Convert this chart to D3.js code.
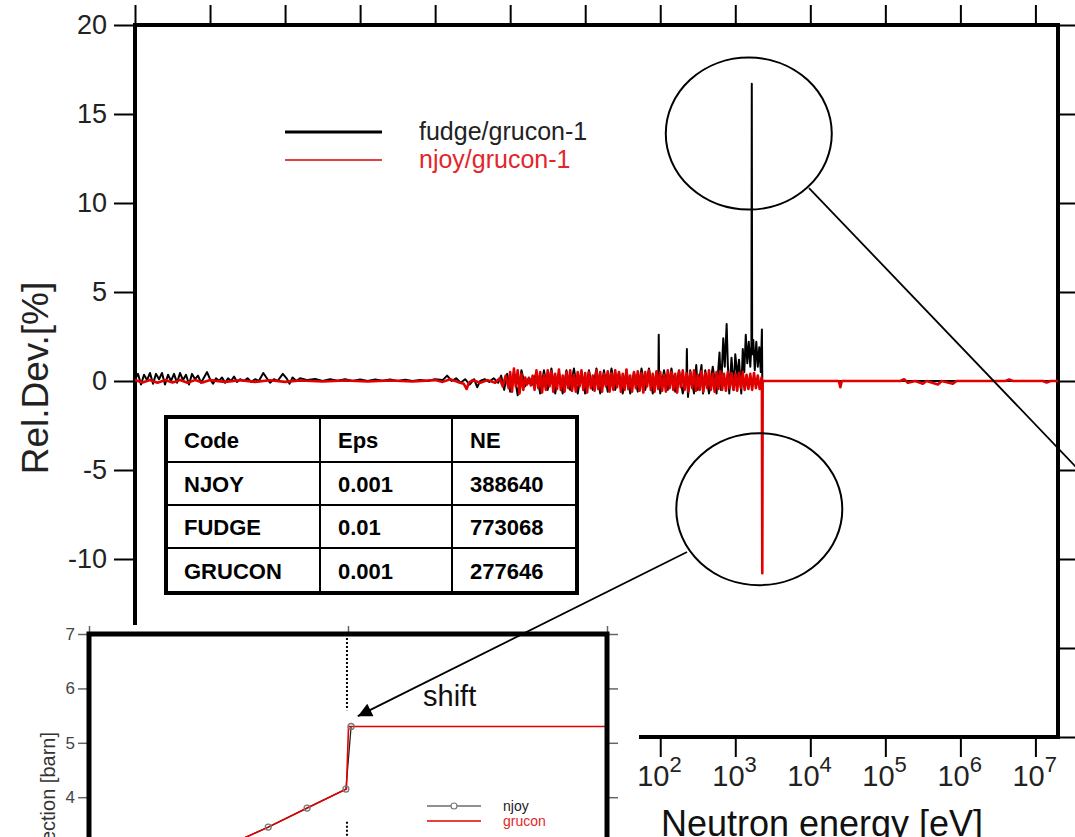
<!DOCTYPE html>
<html>
<head>
<meta charset="utf-8">
<script src="https://cdn.jsdelivr.net/npm/d3@7"></script>
<style>
  body { margin: 0; background: #fff; }
  svg { display: block; font-family: "Liberation Sans", Arial, sans-serif; }
</style>
</head>
<body>
<div id="chart"></div>
<script>
// main panel data: [log10(E/eV), relative deviation in %]
const fudgeDev = [
  [-5.00,0.1],[-4.96,0.4],[-4.92,-0.2],[-4.88,0.35],[-4.84,0.05],[-4.80,0.45],[-4.76,-0.15],[-4.72,0.4],
  [-4.68,0.1],[-4.64,0.45],[-4.60,-0.2],[-4.56,0.35],[-4.52,0.0],[-4.48,0.4],[-4.44,-0.1],[-4.40,0.45],
  [-4.36,0.05],[-4.32,0.35],[-4.28,-0.2],[-4.24,0.4],[-4.20,0.1],[-4.16,0.3],[-4.12,-0.1],[-4.08,0.2],
  [-4.04,0.5],[-4.00,0.1],[-3.96,-0.15],[-3.92,0.15],[-3.88,0.0],[-3.84,0.2],[-3.80,-0.1],[-3.76,0.15],
  [-3.72,0.0],[-3.68,0.25],[-3.64,-0.05],[-3.60,0.1],[-3.55,0.0],[-3.50,0.15],[-3.45,-0.05],[-3.40,0.1],
  [-3.35,0.0],[-3.29,0.45],[-3.25,0.2],[-3.20,-0.1],[-3.15,0.1],[-3.10,0.0],[-3.03,0.4],[-2.98,0.15],
  [-2.94,-0.15],[-2.90,0.2],[-2.85,0.0],[-2.80,0.15],[-2.70,0.05],[-2.60,0.12],[-2.50,0.0],[-2.40,0.1],
  [-2.30,0.02],[-2.20,0.1],[-2.10,0.0],[-2.00,0.08],[-1.90,0.0],[-1.80,0.08],[-1.70,0.02],[-1.60,0.08],
  [-1.50,0.0],[-1.40,0.07],[-1.30,0.0],[-1.20,0.06],[-1.10,0.0],[-1.00,0.1],[-0.90,0.05],[-0.84,0.3],
  [-0.78,0.0],[-0.72,0.15],[-0.66,-0.1],[-0.60,0.1],[-0.54,-0.2],[-0.48,0.1],[-0.44,-0.35],[-0.40,0.0],
  [-0.34,0.1],[-0.28,-0.05],[-0.22,0.15],[-0.16,-0.1],[-0.12,0.3],[-0.08,-0.5],[-0.04,0.4],
  [0.00,-0.6],[0.05,0.5],[0.10,-0.8],[0.15,0.6],[0.20,-0.3],[0.25,0.2],[0.30,-0.2],[0.35,0.5],
  [0.40,-0.7],[0.45,0.6],[0.50,-0.5],[0.55,0.7],[0.60,-0.7],[0.65,0.5],[0.70,-0.7],[0.75,0.6],
  [0.80,-0.5],[0.85,0.7],[0.90,-0.7],[0.95,0.5],[1.00,-0.7],[1.05,0.6],[1.10,-0.5],[1.15,0.7],
  [1.20,-0.7],[1.25,0.6],[1.30,-0.6],[1.35,0.7],[1.40,-0.5],[1.45,0.5],[1.50,-0.7],[1.55,0.6],
  [1.60,-0.7],[1.65,0.5],[1.70,-0.6],[1.75,0.7],[1.80,-0.5],[1.85,0.7],[1.90,-0.7],[1.95,0.5],
  [1.975,0.3],[1.98,2.6],[1.985,0.2],[2.00,-0.7],[2.05,0.6],[2.10,-0.5],[2.15,0.7],[2.20,-0.6],
  [2.25,0.6],[2.30,-0.7],[2.35,0.4],[2.355,1.8],[2.36,0.3],[2.37,-0.9],[2.40,0.6],[2.45,-0.7],
  [2.48,0.9],[2.50,-0.5],[2.55,0.9],[2.57,-0.7],[2.60,0.6],[2.65,-0.7],[2.70,0.8],[2.75,-0.7],
  [2.79,1.6],[2.81,-0.5],[2.84,2.4],[2.86,0.8],[2.885,3.2],[2.90,1.0],[2.92,-0.7],[2.95,1.3],
  [2.98,-0.5],[3.00,1.5],[3.03,0.2],[3.05,1.2],[3.08,-0.7],[3.10,1.8],[3.12,0.5],[3.14,2.6],
  [3.16,1.0],[3.18,2.2],[3.20,0.8],[3.215,2.0],[3.22,16.7],[3.225,1.5],[3.24,2.3],[3.26,0.6],
  [3.28,2.2],[3.30,0.8],[3.32,1.9],[3.34,0.5],[3.355,2.9],[3.36,0.0],[7.30,0.0]
];

const njoyDev = [
  [-5.0,0.05],[-4.9,-0.08],[-4.8,0.06],[-4.7,-0.1],[-4.6,0.05],[-4.5,-0.08],[-4.4,0.06],[-4.3,-0.1],
  [-4.2,0.05],[-4.1,-0.08],[-4.0,0.05],[-3.8,-0.05],[-3.6,0.04],[-3.4,-0.05],[-3.2,0.04],[-3.0,-0.05],
  [-2.8,0.03],[-2.5,-0.03],[-2.2,0.03],[-1.9,-0.03],[-1.6,0.03],[-1.3,-0.03],[-1.0,0.05],[-0.9,-0.05],
  [-0.8,0.1],[-0.7,-0.05],[-0.62,-0.15],[-0.58,-0.45],[-0.55,-0.1],[-0.5,0.05],[-0.4,-0.1],[-0.3,0.05],
  [-0.2,-0.1],[-0.14,0.15],[-0.1,-0.3],[-0.06,0.3],[-0.02,-0.4],
  [0.000,0.5],[0.025,-0.6],[0.050,0.7],[0.075,-0.3],[0.100,0.6],[0.125,-0.7],[0.150,0.4],[0.175,-0.5],
  [0.200,0.2],[0.225,-0.2],[0.250,0.15],[0.275,-0.25],[0.300,0.3],[0.325,-0.5],[0.350,0.6],[0.375,-0.4],
  [0.400,0.5],[0.425,-0.65],[0.450,0.35],[0.475,-0.5],[0.500,0.6],[0.525,-0.3],[0.550,0.55],[0.575,-0.6],
  [0.600,0.4],[0.625,-0.45],[0.650,0.65],[0.675,-0.5],[0.700,0.3],[0.725,-0.6],[0.750,0.5],[0.775,-0.4],
  [0.800,0.6],[0.825,-0.55],[0.850,0.35],[0.875,-0.6],[0.900,0.5],[0.925,-0.3],[0.950,0.6],[0.975,-0.5],
  [1.000,0.45],[1.025,-0.65],[1.050,0.5],[1.075,-0.4],[1.100,0.3],[1.125,-0.55],[1.150,0.6],[1.175,-0.45],
  [1.200,0.5],[1.225,-0.6],[1.250,0.4],[1.275,-0.3],[1.300,0.55],[1.325,-0.6],[1.350,0.45],[1.375,-0.5],
  [1.400,0.6],[1.425,-0.35],[1.450,0.5],[1.475,-0.6],[1.500,0.4],[1.525,-0.5],[1.550,0.65],[1.575,-0.45],
  [1.600,0.3],[1.625,-0.6],[1.650,0.5],[1.675,-0.4],[1.700,0.55],[1.725,-0.55],[1.750,0.45],[1.775,-0.65],
  [1.800,0.5],[1.825,-0.3],[1.850,0.6],[1.875,-0.5],[1.900,0.4],[1.925,-0.6],[1.950,0.55],[1.975,-0.45],
  [2.000,0.5],[2.025,-0.55],[2.050,0.35],[2.075,-0.6],[2.100,0.6],[2.125,-0.4],[2.150,0.5],[2.175,-0.5],
  [2.200,0.4],[2.225,-0.65],[2.250,0.55],[2.275,-0.35],[2.300,0.6],[2.325,-0.5],[2.350,0.45],[2.375,-0.6],
  [2.400,0.5],[2.425,-0.4],[2.450,0.6],[2.475,-0.55],[2.500,0.35],[2.525,-0.5],[2.550,0.55],[2.575,-0.6],
  [2.600,0.45],[2.625,-0.4],[2.650,0.6],[2.675,-0.5],[2.700,0.4],[2.725,-0.6],[2.750,0.5],[2.775,-0.45],
  [2.800,0.55],[2.825,-0.5],[2.850,0.4],[2.875,-0.55],[2.900,0.5],[2.925,-0.4],[2.950,0.45],[2.975,-0.5],
  [3.000,0.4],[3.025,-0.55],[3.050,0.45],[3.075,-0.4],[3.100,0.5],[3.125,-0.5],[3.150,0.35],[3.175,-0.45],
  [3.200,0.4],[3.225,-0.5],[3.250,0.45],[3.275,-0.4],[3.300,0.3],[3.325,-0.45],[3.350,0.2],[3.355,-0.3],
  [3.36,-10.8],[3.365,0.0],
  [4.38,0.0],[4.40,-0.35],[4.42,0.0],[5.2,0.0],[5.25,0.1],[5.3,-0.1],[5.4,0.0],[5.5,-0.15],
  [5.55,0.0],[5.7,-0.2],[5.75,0.0],[5.9,-0.15],[5.95,0.0],[6.6,0.0],[6.65,0.08],[6.7,0.0],
  [7.1,0.0],[7.15,-0.08],[7.2,0.0],[7.301,0.0]
];

const yTicks = [-20, -15, -10, -5, 0, 5, 10, 15, 20];
const decades = [1e-5,1e-4,1e-3,1e-2,1e-1,1e0,1e1,1e2,1e3,1e4,1e5,1e6,1e7];
const legendNames = ["fudge/grucon-1", "njoy/grucon-1"];

const tableHeader = ["Code", "Eps", "NE"];
const tableRows = [
  ["NJOY", "0.001", "388640"],
  ["FUDGE", "0.01", "773068"],
  ["GRUCON", "0.001", "277646"]
];

// inset (zoom around the step), x in arbitrary units, y in barn
const insetNjoy = [[0.269,3.12],[0.346,3.45],[0.421,3.8],[0.496,4.15],[0.506,5.3]];
const insetGrucon = [[0.2,2.85],[0.269,3.12],[0.346,3.45],[0.421,3.8],[0.497,4.15],[0.501,5.3],[1.0,5.3]];
const insetYTicks = [3, 4, 5, 6, 7];
const insetXTicks = [0, 0.5, 1];

const W = 1075, H = 837;
const red = "#e00000";
const svg = d3.select("#chart").append("svg").attr("width", W).attr("height", H);
const defs = svg.append("defs");

// ---------- main panel ----------
const P = {l: 135, t: 25, r: 1058, b: 737};
const x = d3.scaleLog().domain([1e-5, 2e7]).range([P.l, P.r]);
const y = d3.scaleLinear().domain([-20, 20]).range([P.b, P.t]);
const ex = e => x(Math.pow(10, e));

// the inset picture covers the lower left corner of the main panel
const inset = {x0: 0, y0: 625, x1: 639};

defs.append("clipPath").attr("id", "mainclip")
  .append("rect").attr("x", P.l).attr("y", P.t).attr("width", P.r - P.l).attr("height", P.b - P.t);

function styleAxis(g) {
  g.select(".domain").remove();
  g.selectAll(".tick line").attr("stroke", "#000").attr("stroke-width", 2);
  g.attr("font-family", null);
}

const gL = svg.append("g").attr("transform", `translate(${P.l},0)`)
  .call(d3.axisLeft(y).tickValues(yTicks).tickSize(21).tickPadding(7)
    .tickFormat(d => y(d) < inset.y0 ? String(d) : ""));
styleAxis(gL);
gL.attr("font-size", 27).selectAll("text").attr("fill", "#222");

const gR = svg.append("g").attr("transform", `translate(${P.r},0)`)
  .call(d3.axisRight(y).tickValues(yTicks).tickSize(20).tickFormat(""));
styleAxis(gR);

const gT = svg.append("g").attr("transform", `translate(0,${P.t})`)
  .call(d3.axisTop(x).tickValues(decades).tickSize(20).tickFormat(""));
styleAxis(gT);

const gB = svg.append("g").attr("transform", `translate(0,${P.b})`)
  .call(d3.axisBottom(x).tickValues(decades).tickSize(20).tickFormat(""));
styleAxis(gB);

// decade labels 10^n (only the ones not hidden by the inset)
decades.filter(d => x(d) > inset.x1).forEach(d => {
  const t = svg.append("text").attr("x", x(d) - 23).attr("y", 786).attr("fill", "#222");
  t.append("tspan").attr("font-size", 29).text("10");
  t.append("tspan").attr("font-size", 22).attr("dy", -14).text(String(Math.round(Math.log10(d))));
});

svg.append("rect").attr("x", P.l).attr("y", P.t)
  .attr("width", P.r - P.l).attr("height", P.b - P.t)
  .attr("fill", "none").attr("stroke", "#000").attr("stroke-width", 4);

svg.append("text").attr("transform", "translate(48,378) rotate(-90)")
  .attr("text-anchor", "middle").attr("font-size", 37).attr("fill", "#222")
  .text("Rel.Dev.[%]");

svg.append("text").attr("x", 822).attr("y", 836)
  .attr("text-anchor", "middle").attr("font-size", 36).attr("fill", "#111")
  .text("Neutron energy [eV]");

const line = d3.line().x(d => ex(d[0])).y(d => y(d[1]));
const dataG = svg.append("g").attr("clip-path", "url(#mainclip)");
dataG.append("path").datum(fudgeDev).attr("d", line)
  .attr("fill", "none").attr("stroke", "#000").attr("stroke-width", 2).attr("stroke-linejoin", "round");
dataG.append("path").datum(njoyDev).attr("d", line)
  .attr("fill", "none").attr("stroke", red).attr("stroke-width", 2.6).attr("stroke-linejoin", "round");

// legend
svg.append("line").attr("x1", 285).attr("x2", 382).attr("y1", 132).attr("y2", 132)
  .attr("stroke", "#000").attr("stroke-width", 3);
svg.append("line").attr("x1", 285).attr("x2", 382).attr("y1", 160).attr("y2", 160)
  .attr("stroke", red).attr("stroke-width", 1.5);
svg.append("text").attr("x", 419).attr("y", 140).attr("font-size", 25).attr("fill", "#222").text(legendNames[0]);
svg.append("text").attr("x", 419).attr("y", 168).attr("font-size", 25).attr("fill", "#e3262b").text(legendNames[1]);

// table
const tb = {x: 166, y: 417, w: 411, rows: [45, 43, 43, 45], cols: [154, 132, 125]};
const tg = svg.append("g");
tg.append("rect").attr("x", tb.x).attr("y", tb.y).attr("width", tb.w)
  .attr("height", d3.sum(tb.rows)).attr("fill", "#fff").attr("stroke", "#000").attr("stroke-width", 4);
let cx = tb.x;
tb.cols.slice(0, -1).forEach(c => {
  cx += c;
  tg.append("line").attr("x1", cx).attr("x2", cx).attr("y1", tb.y).attr("y2", tb.y + d3.sum(tb.rows))
    .attr("stroke", "#000").attr("stroke-width", 2);
});
let ry = tb.y;
tb.rows.slice(0, -1).forEach(r => {
  ry += r;
  tg.append("line").attr("x1", tb.x).attr("x2", tb.x + tb.w).attr("y1", ry).attr("y2", ry)
    .attr("stroke", "#000").attr("stroke-width", 2);
});
[tableHeader, ...tableRows].forEach((row, i) => {
  const top = tb.y + d3.sum(tb.rows.slice(0, i));
  let left = tb.x;
  row.forEach((cell, j) => {
    tg.append("text").attr("x", left + 18).attr("y", top + tb.rows[i] / 2 + 8)
      .attr("font-size", 22).attr("font-weight", "bold").attr("fill", "#000").text(cell);
    left += tb.cols[j];
  });
});

// ---------- inset ----------
const I = {l: 89, t: 634, r: 607, b: 906};
const ix = d3.scaleLinear().domain([0, 1]).range([I.l, I.r]);
const iy = d3.scaleLinear().domain([2, 7]).range([I.b, I.t]);

svg.append("rect").attr("x", inset.x0).attr("y", inset.y0)
  .attr("width", inset.x1 - inset.x0).attr("height", H - inset.y0).attr("fill", "#fff");
defs.append("clipPath").attr("id", "insetclip")
  .append("rect").attr("x", I.l).attr("y", I.t).attr("width", I.r - I.l).attr("height", I.b - I.t);

function styleInset(g) {
  g.select(".domain").remove();
  g.selectAll(".tick line").attr("stroke", "#666").attr("stroke-width", 1.5);
  g.attr("font-family", null);
}
const iL = svg.append("g").attr("transform", `translate(${I.l},0)`)
  .call(d3.axisLeft(iy).tickValues(insetYTicks).tickSize(11).tickPadding(3).tickFormat(d => String(d)));
styleInset(iL);
iL.attr("font-size", 17).selectAll("text").attr("fill", "#444");
const iR = svg.append("g").attr("transform", `translate(${I.r},0)`)
  .call(d3.axisRight(iy).tickValues(insetYTicks).tickSize(11).tickFormat(""));
styleInset(iR);
const iT = svg.append("g").attr("transform", `translate(0,${I.t})`)
  .call(d3.axisTop(ix).tickValues(insetXTicks).tickSize(8).tickFormat(""));
styleInset(iT);

svg.append("text").attr("transform", "translate(55,732) rotate(-90)")
  .attr("text-anchor", "end").attr("font-size", 20).attr("fill", "#333")
  .text("Cross section [barn]");

const ig = svg.append("g").attr("clip-path", "url(#insetclip)");
const iline = d3.line().x(d => ix(d[0])).y(d => iy(d[1]));
// dotted marker of the threshold
[[7, 5.6], [3.55, 2]].forEach(s => {
  ig.append("line").attr("x1", ix(0.498)).attr("x2", ix(0.498)).attr("y1", iy(s[0])).attr("y2", iy(s[1]))
    .attr("stroke", "#000").attr("stroke-width", 2).attr("stroke-dasharray", "2,2");
});
ig.append("path").datum(insetNjoy).attr("d", iline)
  .attr("fill", "none").attr("stroke", "#222").attr("stroke-width", 1.3);
ig.append("path").datum(insetGrucon).attr("d", iline)
  .attr("fill", "none").attr("stroke", red).attr("stroke-width", 1.6);
ig.selectAll("circle").data(insetNjoy).enter().append("circle")
  .attr("cx", d => ix(d[0])).attr("cy", d => iy(d[1])).attr("r", 3)
  .attr("fill", "none").attr("stroke", "#777").attr("stroke-width", 1.3);

svg.append("rect").attr("x", I.l).attr("y", I.t).attr("width", I.r - I.l).attr("height", I.b - I.t)
  .attr("fill", "none").attr("stroke", "#000").attr("stroke-width", 5);

// inset legend
svg.append("line").attr("x1", 427).attr("x2", 481).attr("y1", 806).attr("y2", 806)
  .attr("stroke", "#222").attr("stroke-width", 1.2);
svg.append("circle").attr("cx", 454).attr("cy", 806).attr("r", 3)
  .attr("fill", "#fff").attr("stroke", "#777").attr("stroke-width", 1.2);
svg.append("line").attr("x1", 427).attr("x2", 481).attr("y1", 821).attr("y2", 821)
  .attr("stroke", red).attr("stroke-width", 1.4);
svg.append("text").attr("x", 503).attr("y", 811).attr("font-size", 14).attr("fill", "#222").text("njoy");
svg.append("text").attr("x", 503).attr("y", 826).attr("font-size", 14).attr("fill", "#e3262b").text("grucon");

svg.append("text").attr("x", 423).attr("y", 706).attr("font-size", 29).attr("fill", "#111").text("shift");

// ---------- annotations ----------
const marks = [{e: 3.18, v: 13.9}, {e: 3.32, v: -7.2}];
marks.forEach(m => {
  svg.append("ellipse").attr("cx", ex(m.e)).attr("cy", y(m.v)).attr("rx", 83).attr("ry", 76)
    .attr("fill", "none").attr("stroke", "#000").attr("stroke-width", 2);
});

svg.append("line")
  .attr("x1", ex(3.983)).attr("y1", y(10.84))
  .attr("x2", ex(7.861)).attr("y2", y(-6.24))
  .attr("stroke", "#000").attr("stroke-width", 1.8);

defs.append("marker").attr("id", "arrow").attr("viewBox", "0 0 10 10")
  .attr("refX", 10).attr("refY", 5).attr("markerWidth", 17).attr("markerHeight", 14)
  .attr("markerUnits", "userSpaceOnUse").attr("orient", "auto")
  .append("path").attr("d", "M0,0L10,5L0,10z").attr("fill", "#000");

svg.append("line")
  .attr("x1", ex(2.357)).attr("y1", y(-9.61))
  .attr("x2", ix(0.519)).attr("y2", iy(5.49))
  .attr("stroke", "#000").attr("stroke-width", 1.8)
  .attr("marker-end", "url(#arrow)");
</script>
</body>
</html>
